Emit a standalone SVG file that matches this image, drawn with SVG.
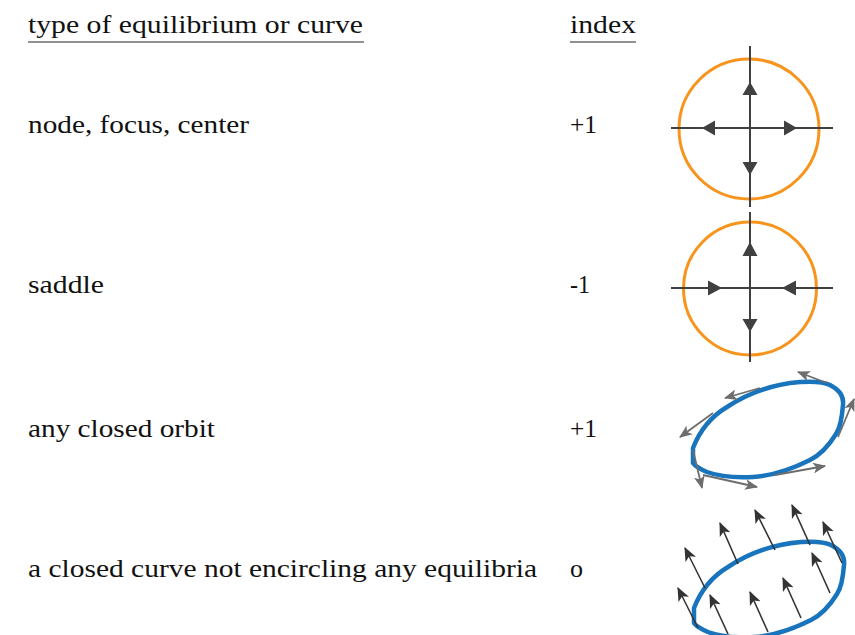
<svg xmlns="http://www.w3.org/2000/svg" width="855" height="635" viewBox="0 0 855 635">
<style>
text{font-family:"Liberation Serif","Times New Roman",serif;font-size:26px;fill:#111}
.ax{stroke:#404040;stroke-width:2;fill:none}
.ring{stroke:#F7941D;stroke-width:3;fill:none}
.orb{stroke:#1874BC;stroke-width:4.5;fill:none;stroke-linejoin:round}
.tan{stroke:#6d6d6d;stroke-width:1.8;fill:none;marker-end:url(#ga)}
.vf{stroke:#333;stroke-width:1.6;fill:none;marker-end:url(#da)}
.head{fill:#404040}
</style>
<defs>
<marker id="ga" viewBox="0 0 12 10" refX="11" refY="5" markerWidth="13" markerHeight="11" markerUnits="userSpaceOnUse" orient="auto">
<path d="M0,0 L12,5 L0,10 L3,5 z" fill="#6d6d6d"/>
</marker>
<marker id="da" viewBox="0 0 12 10" refX="11" refY="5" markerWidth="14" markerHeight="12" markerUnits="userSpaceOnUse" orient="auto">
<path d="M0,0 L12,5 L0,10 L3,5 z" fill="#333"/>
</marker>
<path id="loop" d="M693,463 L693,448 C700,430 712,416 727,407 C750,392 775,384 800,382 C815,381 824,382 830,385 C840,390 844,396 843,405 C842,418 840,428 836,434 C828,447 820,455 810,460 C790,470 770,476 753,477 C735,478 718,476 707,472 C700,469 695,466 693,463 Z"/>
</defs>

<g id="header">
<text x="28" y="33" textLength="335" lengthAdjust="spacingAndGlyphs">type of equilibrium or curve</text>
<line x1="28" y1="42" x2="364" y2="42" stroke="#222" stroke-width="1.2"/>
<text x="570" y="33" textLength="66" lengthAdjust="spacingAndGlyphs">index</text>
<line x1="570" y1="42" x2="636" y2="42" stroke="#222" stroke-width="1.2"/>
</g>

<g id="row-node">
<text x="28" y="133" textLength="221" lengthAdjust="spacingAndGlyphs">node, focus, center</text>
<text x="570" y="133" textLength="27" lengthAdjust="spacingAndGlyphs">+1</text>
<circle class="ring" cx="749" cy="129" r="70"/>
<line class="ax" x1="750" y1="46" x2="750" y2="207"/>
<line class="ax" x1="750" y1="212" x2="750" y2="220"/>
<line class="ax" x1="671" y1="128" x2="833" y2="128"/>
<path class="head" d="M750,82 L757.5,95 L742.5,95 Z"/>
<path class="head" d="M750,175 L757.5,162 L742.5,162 Z"/>
<path class="head" d="M702,128 L715,120.5 L715,135.5 Z"/>
<path class="head" d="M797,128 L784,120.5 L784,135.5 Z"/>
</g>

<g id="row-saddle">
<text x="28" y="293" textLength="76" lengthAdjust="spacingAndGlyphs">saddle</text>
<text x="570" y="293" textLength="20" lengthAdjust="spacingAndGlyphs">-1</text>
<circle class="ring" cx="750" cy="288.5" r="66.5"/>
<line class="ax" x1="750" y1="212" x2="750" y2="362"/>
<line class="ax" x1="671" y1="288" x2="833" y2="288"/>
<path class="head" d="M750,242 L757.5,256 L742.5,256 Z"/>
<path class="head" d="M750,332 L757.5,319 L742.5,319 Z"/>
<path class="head" d="M722,288 L708,280.5 L708,295.5 Z"/>
<path class="head" d="M782,288 L796,280.5 L796,295.5 Z"/>
</g>

<g id="row-orbit">
<text x="28" y="437" textLength="187" lengthAdjust="spacingAndGlyphs">any closed orbit</text>
<text x="570" y="437" textLength="27" lengthAdjust="spacingAndGlyphs">+1</text>
<use href="#loop" class="orb"/>
</g>

<g id="row-curve">
<text x="28" y="577" textLength="509" lengthAdjust="spacingAndGlyphs">a closed curve not encircling any equilibria</text>
<text x="570" y="577">o</text>
<use href="#loop" class="orb" transform="translate(1,160)"/>
</g>

<g id="connectors">
<line class="tan" x1="827" y1="383" x2="798" y2="372"/>
<line class="tan" x1="760" y1="388" x2="725" y2="398"/>
<line class="tan" x1="713" y1="413" x2="680" y2="437"/>
<line class="tan" x1="693" y1="450" x2="702" y2="488"/>
<line class="tan" x1="703" y1="475" x2="757" y2="487"/>
<line class="tan" x1="775" y1="475" x2="825" y2="466"/>
<line class="tan" x1="838" y1="437" x2="854" y2="399"/>

<line class="vf" x1="705" y1="588" x2="685" y2="548"/>
<line class="vf" x1="738" y1="564" x2="720" y2="523"/>
<line class="vf" x1="775" y1="550" x2="755" y2="510"/>
<line class="vf" x1="810" y1="545" x2="792" y2="505"/>
<line class="vf" x1="842" y1="563" x2="823" y2="522"/>
<line class="vf" x1="698" y1="628" x2="678" y2="588"/>
<line class="vf" x1="728" y1="634" x2="710" y2="595"/>
<line class="vf" x1="768" y1="632" x2="750" y2="592"/>
<line class="vf" x1="801" y1="618" x2="783" y2="578"/>
<line class="vf" x1="830" y1="593" x2="812" y2="553"/>
</g>
</svg>
